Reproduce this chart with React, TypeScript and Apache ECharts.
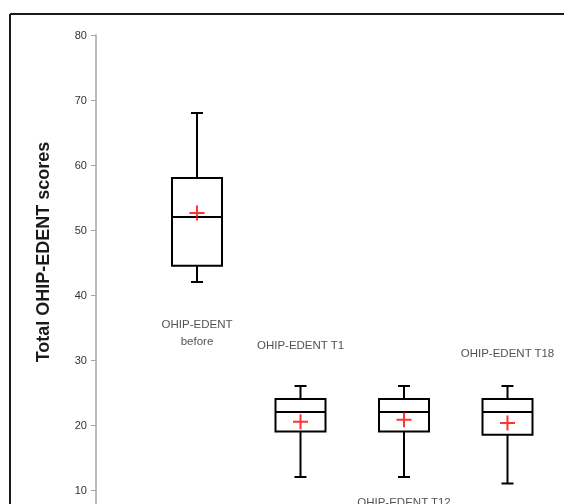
import React, { useEffect, useRef } from "react";
import * as echarts from "echarts";

const categories = ["OHIP-EDENT\nbefore", "OHIP-EDENT T1", "OHIP-EDENT T12", "OHIP-EDENT T18"];
const whiskerLow = [42, 12, 12, 11];
const q1 = [44.5, 19, 19, 18.5];
const median = [52, 22, 22, 22];
const q3 = [58, 24, 24, 24];
const whiskerHigh = [68, 26, 26, 26];
const means = [52.6, 20.5, 20.8, 20.3];
const labelLevels = [34.3, 32.3, 8.2, 31.1];
const axisTitle = "Total OHIP-EDENT scores";

export default function App() {
  const ref = useRef<HTMLDivElement>(null);
  useEffect(() => {
    if (!ref.current) return;
    const chart = echarts.init(ref.current, null, { renderer: "svg" });
    const boxData = categories.map((_, i) => [i, whiskerLow[i], q1[i], median[i], q3[i], whiskerHigh[i]]);
    const stroke = "#000000";
    chart.setOption({
      animation: false,
      grid: { left: 145.25, right: 4.75, top: 35, bottom: 45 },
      xAxis: {
        type: "category",
        data: categories,
        boundaryGap: true,
        show: false,
      },
      yAxis: {
        type: "value",
        min: 0,
        max: 80,
        interval: 10,
        offset: 49.25,
        axisLine: { show: true, lineStyle: { color: "#a6a6a6", width: 1.5 } },
        axisTick: { show: true, length: 5, lineStyle: { color: "#a6a6a6", width: 1 } },
        axisLabel: {
          fontSize: 11,
          color: "#333333",
          margin: 9,
          fontFamily: "Liberation Sans",
          showMinLabel: false,
        },
        splitLine: { show: false },
      },
      graphic: [
        { type: "line", shape: { x1: 10, y1: 14, x2: 564, y2: 14 }, style: { stroke: "#1a1a1a", lineWidth: 2 } },
        { type: "line", shape: { x1: 10, y1: 14, x2: 10, y2: 600 }, style: { stroke: "#1a1a1a", lineWidth: 2 } },
        {
          type: "text",
          x: 43,
          y: 252,
          rotation: Math.PI / 2,
          style: {
            text: axisTitle,
            fontSize: 18,
            fontWeight: "bold",
            fontFamily: "Liberation Sans",
            fill: "#1a1a1a",
            align: "center",
            verticalAlign: "middle",
          },
        },
      ],
      series: [
        {
          type: "custom",
          data: boxData,
          encode: { x: 0, y: [1, 2, 3, 4, 5] },
          renderItem: (params: any, api: any) => {
            const i = api.value(0);
            const pLo = api.coord([i, api.value(1)]);
            const pQ1 = api.coord([i, api.value(2)]);
            const pMed = api.coord([i, api.value(3)]);
            const pQ3 = api.coord([i, api.value(4)]);
            const pHi = api.coord([i, api.value(5)]);
            const cx = pMed[0];
            const half = 25;
            const cap = 6;
            const ls = { stroke, lineWidth: 2 };
            return {
              type: "group",
              children: [
                { type: "line", shape: { x1: cx, y1: pHi[1], x2: cx, y2: pQ3[1] }, style: ls },
                { type: "line", shape: { x1: cx - cap, y1: pHi[1], x2: cx + cap, y2: pHi[1] }, style: ls },
                { type: "line", shape: { x1: cx, y1: pQ1[1], x2: cx, y2: pLo[1] }, style: ls },
                { type: "line", shape: { x1: cx - cap, y1: pLo[1], x2: cx + cap, y2: pLo[1] }, style: ls },
                {
                  type: "rect",
                  shape: { x: cx - half, y: pQ3[1], width: half * 2, height: pQ1[1] - pQ3[1] },
                  style: { fill: "#ffffff", stroke, lineWidth: 2 },
                },
                { type: "line", shape: { x1: cx - half, y1: pMed[1], x2: cx + half, y2: pMed[1] }, style: ls },
              ],
            };
          },
          z: 2,
        },
        {
          type: "scatter",
          data: means.map((m, i) => [i, m]),
          symbol: "path://M0,6.5H15V8.5H0Z M6.5,0H8.5V15H6.5Z",
          symbolSize: 15,
          itemStyle: { color: "#ff0000" },
          z: 3,
        },
        {
          type: "scatter",
          data: labelLevels.map((v, i) => [i, v]),
          symbolSize: 0,
          silent: true,
          label: {
            show: true,
            position: "inside",
            formatter: (p: any) => categories[p.dataIndex],
            fontSize: 11.5,
            lineHeight: 17,
            color: "#262626",
            fontFamily: "Liberation Sans",
            align: "center",
            verticalAlign: "middle",
          },
          z: 1,
        },
      ],
    });
    return () => chart.dispose();
  }, []);
  return <div ref={ref} style={{ position: "fixed", left: 0, top: 0, width: 564, height: 600 }} />;
}
